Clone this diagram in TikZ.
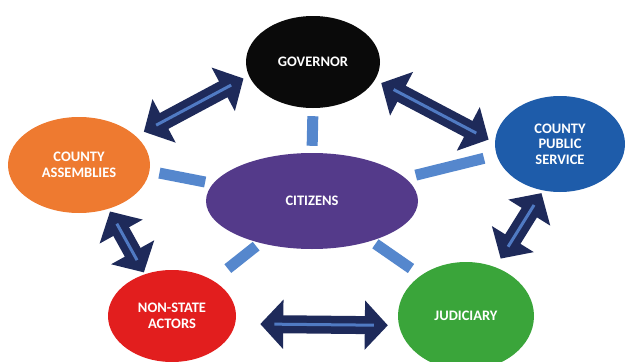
\documentclass[tikz,border=0pt]{standalone}
\usepackage{fontspec}
\setmainfont{Carlito}
\usepackage{tikz}
\usetikzlibrary{arrows.meta, shapes.geometric}

\definecolor{govfill}{RGB}{10,10,10}
\definecolor{asmfill}{RGB}{238,122,48}
\definecolor{pubfill}{RGB}{30,92,170}
\definecolor{citfill}{RGB}{84,58,138}
\definecolor{nsafill}{RGB}{226,30,30}
\definecolor{judfill}{RGB}{58,165,58}
\definecolor{navy}{RGB}{30,42,90}
\definecolor{midblue}{RGB}{80,122,195}
\definecolor{spokeblue}{RGB}{85,135,205}

\begin{document}
\begin{tikzpicture}[x=1pt, y=-1pt,
    role/.style={ellipse, inner sep=0pt, text=white, align=center,
                 font=\fontsize{14.5}{15.5}\selectfont\bfseries},
    dbl/.style={{Triangle[length=23pt, width=48pt]}-{Triangle[length=23pt, width=48pt]},
                line width=18pt, draw=navy},
    midline/.style={line width=3pt, draw=midblue},
    spoke/.style={line width=11pt, draw=spokeblue}
]
    \useasboundingbox (0,0) rectangle (625,362);

    % Outer bodies
    \node[role, fill=govfill, minimum width=134pt, minimum height=92pt] (gov) at (313,62) {GOVERNOR};
    \node[role, fill=asmfill, minimum width=142pt, minimum height=96pt] (asm) at (79,165) {COUNTY\\ASSEMBLIES};
    \node[role, fill=pubfill, minimum width=130pt, minimum height=96pt] (pub) at (560,144) {COUNTY\\PUBLIC\\SERVICE};
    \node[role, fill=nsafill, minimum width=128pt, minimum height=92pt] (nsa) at (172,316) {NON-STATE\\ACTORS};
    \node[role, fill=judfill, minimum width=136pt, minimum height=108pt] (jud) at (466,316) {JUDICIARY};

    % Centre
    \node[role, fill=citfill, minimum width=212pt, minimum height=96pt] (cit) at (312,201) {CITIZENS};

    % Spokes
    \draw[spoke, shorten <=7pt, shorten >=8pt] (cit.90) -- (gov.270);
    \draw[spoke, shorten <=8pt, shorten >=10pt] (cit.170) -- (asm.-5);
    \draw[spoke, shorten <=11pt, shorten >=13pt] (cit.14) -- (pub.190);
    \draw[spoke, shorten <=5pt, shorten >=19pt] (cit.219) -- (nsa.41);
    \draw[spoke, shorten <=5pt, shorten >=12pt] (cit.-34) -- (jud.138);

    % Two-way arrows
    \draw[dbl, shorten <=9pt, shorten >=6pt] (asm.27) -- (gov.192);
    \draw[midline, shorten <=23pt, shorten >=20pt] (asm.27) -- (gov.192);

    \draw[dbl, shorten <=7pt, shorten >=7pt] (gov.-16) -- (pub.179);
    \draw[midline, shorten <=21pt, shorten >=21pt] (gov.-16) -- (pub.179);

    \draw[dbl, shorten <=3pt, shorten >=2pt] (asm.-56) -- (nsa.123);
    \draw[midline, shorten <=17pt, shorten >=16pt] (asm.-56) -- (nsa.123);

    \draw[dbl, shorten <=3pt, shorten >=10pt] (pub.250) -- (jud.59);
    \draw[midline, shorten <=17pt, shorten >=24pt] (pub.250) -- (jud.59);

    \draw[dbl, shorten <=25pt, shorten >=11pt] (nsa.-7) -- (jud.188);
    \draw[midline, shorten <=39pt, shorten >=25pt] (nsa.-7) -- (jud.188);

\end{tikzpicture}
\end{document}
